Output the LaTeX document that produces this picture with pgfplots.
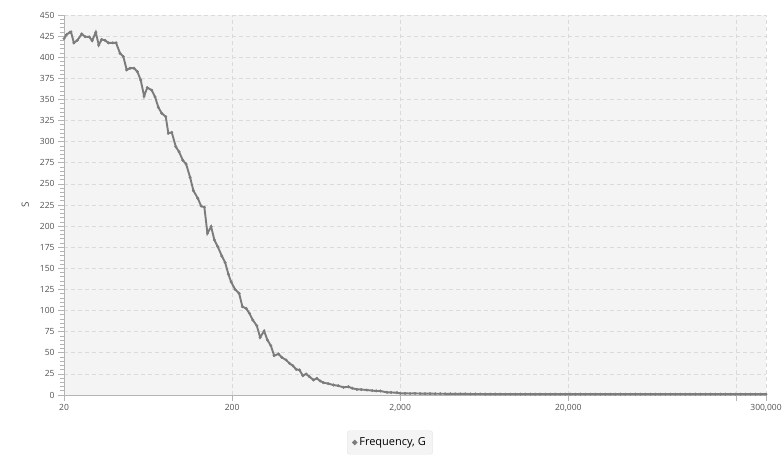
\documentclass[border=0pt]{standalone}
\usepackage{fontspec}
\setmainfont{Open Sans}
\usepackage{pgfplots}
\pgfplotsset{compat=1.18}
\definecolor{plotbg}{HTML}{F4F4F4}
\definecolor{gridgray}{HTML}{DADADA}
\definecolor{axisgray}{HTML}{B4B4B4}
\definecolor{linegray}{HTML}{7C7C7C}
\definecolor{textgray}{HTML}{505050}
\definecolor{legendgray}{HTML}{E2E2E2}
\begin{document}
\begin{tikzpicture}[x=1pt,y=1pt]
\path[use as bounding box] (0,0) rectangle (784,463);
\begin{axis}[
  at={(64pt,68pt)}, anchor=south west,
  scale only axis, width=702pt, height=380pt,
  xmode=log, log basis x=10, xmin=20, xmax=300000,
  ymin=0, ymax=450,
  xtick={20,200,2000,20000,200000,300000},
  xticklabels={20,200,{2,000},{20,000},,{300,000}},
  xminorticks=false,
  ytick={0,25,...,450},
  minor y tick num=4,
  axis x line*=bottom, axis y line*=left,
  axis line style={color=axisgray, line width=0.8pt},
  axis background/.style={fill=plotbg},
  xmajorgrids, ymajorgrids,
  major grid style={color=gridgray, dash pattern=on 4pt off 3pt, line width=0.7pt},
  tick align=outside,
  major tick length=6pt, minor tick length=4.5pt,
  tick style={color=axisgray, line width=0.7pt},
  ticklabel style={font=\fontsize{8.5}{10}\selectfont, color=textgray},
  /pgf/number format/assume math mode=true,
  ylabel={S},
  ylabel style={at={(axis description cs:-0.055,0.5)}, anchor=center, font=\fontsize{10}{12}\selectfont, color=textgray},
  legend style={at={(axis description cs:0.4644,-0.125)}, anchor=center, fill=plotbg, draw=legendgray, rounded corners=2.5pt, font=\fontsize{11}{13}\selectfont, inner xsep=5pt, inner ysep=5pt, text=black},
  legend image code/.code={\fill[linegray] (0.45em,0) circle (1.6pt);},
  legend cell align=left,
]
\addplot[color=linegray, line width=1.9pt, mark=*, mark size=1.35pt, mark options={fill=linegray, draw=linegray, line width=0.3pt}] coordinates {
(20,422) (20.76,427) (21.7,429.5) (22.0,430) (22.9,417) (24.0,420) (25.5,427.5) (26.7,424.3) (28.3,424) (29.4,419.6)
(30.9,429.5) (32.2,414.5) (33.5,421) (35.1,420) (36.7,417) (39.0,417) (40.8,417) (43.1,404.6) (45.1,400.6) (47.2,385)
(49.4,387) (52.2,387) (54.6,383) (57.2,373) (59.9,354) (62.6,364) (66.5,361) (69.6,353) (72.8,340.7) (76.3,333.6)
(80.6,329.6) (83.5,309.9) (87.5,311) (92.5,294) (96.7,288) (101.8,278) (106.5,273.5) (112.5,257.8) (117.7,242) (125.0,233)
(130.8,223.8) (136.8,222.3) (142.6,191.5) (150.0,199.3) (156.9,183.6) (164.4,175.6) (173.7,164.6) (181.7,157) (190.1,143) (197.3,134)
(208.4,125) (220.2,120.4) (230.3,104.6) (242.3,102.6) (253.6,96.7) (265.6,88.8) (280.6,82) (293.6,68.3) (310.1,75.8) (324.6,65)
(340.0,58.4) (355.7,46.6) (377.5,48.6) (395.3,44.5) (419.3,41.4) (438.9,37.5) (459.7,34.7) (480.9,30.4) (503.1,29.6) (527.0,22.9)
(551.4,24.9) (577.0,21.7) (609.5,17.8) (638.5,19.7) (668.1,16.6) (699,14.6) (745.6,13.5) (801.8,11.8) (855,11) (919,9.1)
(985,9.8) (1036,8) (1105,6.7) (1172,6.5) (1267,5.9) (1363,5.2) (1439,4.8) (1521,4.7) (1667,3.2) (1768,3.0)
(1912,2.7) (2000,2.0) (2140,1.9) (2290,1.8) (2450,1.9) (2630,1.7) (2810,1.6) (3010,1.6) (3230,1.5) (3460,1.5)
(3700,1.4) (3970,1.4) (4250,1.3) (4550,1.3) (4870,1.3) (5220,1.2) (5590,1.2) (5980,1.2) (6410,1.1) (6860,1.1)
(7350,1.1) (7870,1.1) (8430,1.0) (9030,1.0) (9670,1.0) (10400,1.0) (11100,1.0) (11900,1.0) (12700,1.0) (13600,1.0)
(14600,1.0) (15600,1.0) (16700,1.0) (17900,1.0) (19200,1.0) (20500,1.0) (22000,1.0) (23600,1.0) (25200,1.0) (27000,1.0)
(28900,1.0) (31000,1.0) (33200,1.0) (35500,1.0) (38000,1.0) (40800,1.0) (43600,1.0) (46700,1.0) (50100,1.0) (53600,1.0)
(57400,1.0) (61500,1.0) (65800,1.0) (70500,1.0) (75500,1.0) (80900,1.0) (86600,1.0) (92700,1.0) (99300,1.0) (106000,1.0)
(114000,1.0) (122000,1.0) (131000,1.0) (140000,1.0) (150000,1.0) (161000,1.0) (172000,1.0) (184000,1.0) (197000,1.0) (211000,1.0)
(226000,1.0) (242000,1.0) (260000,1.0) (278000,1.0) (300000,1.0)
};
\addlegendentry{Frequency, G}
\end{axis}
\end{tikzpicture}
\end{document}
